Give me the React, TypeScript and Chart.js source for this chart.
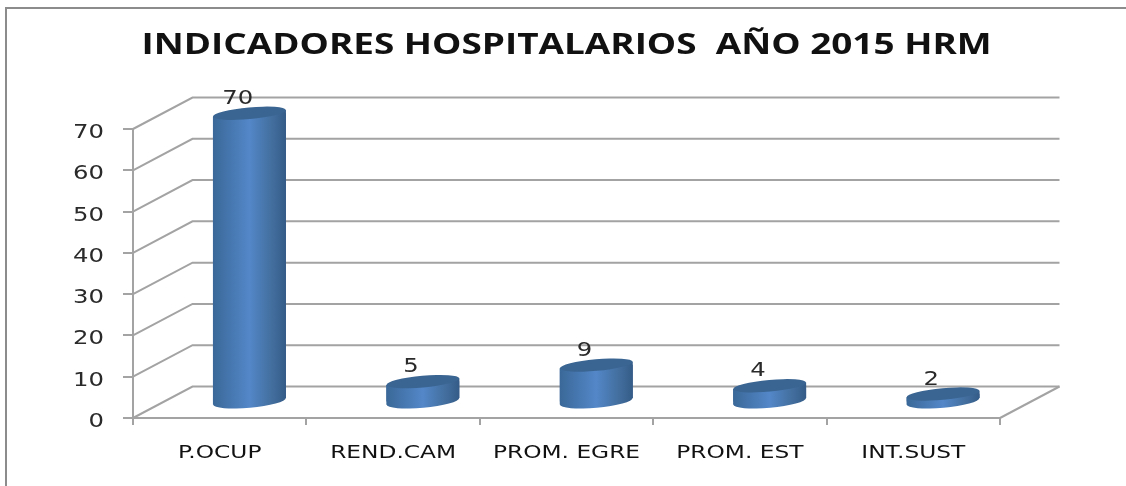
import React, { useEffect, useRef } from "react";
import { Chart, registerables } from "chart.js";

Chart.register(...registerables);

const categories = ["P.OCUP", "REND.CAM", "PROM. EGRE", "PROM. EST", "INT.SUST"];
const values = [70, 5, 9, 4, 2];
const chartTitle = "INDICADORES HOSPITALARIOS  AÑO 2015 HRM";

const DEPTH_X = 59.5;
const DEPTH_Y = 31.5;
const TILT = -0.09;
const GRID = "#a3a3a3";
const FONT = "'DejaVu Sans', sans-serif";
const TITLE_PX = 28;
const NUM_PX = 19;
const CAT_PX = 17;

function sideGradient(c: CanvasRenderingContext2D, left: number, right: number) {
  const g = c.createLinearGradient(left, 0, right, 0);
  g.addColorStop(0, "#3a6898");
  g.addColorStop(0.5, "#5387c8");
  g.addColorStop(0.8, "#436f9f");
  g.addColorStop(1, "#355c88");
  return g;
}

// The reference's text is stretched sideways: keep the library's text drawing, widened.
const wideText = {
  id: "wideText",
  afterInit(chart: any) {
    const c = chart.ctx;
    const plain = c.fillText.bind(c);
    c.fillText = (text: string, x: number, y: number, maxWidth?: number) => {
      const px = parseFloat((/(\d+(?:\.\d+)?)px/.exec(c.font) || ["", "12"])[1]);
      const sx = px === TITLE_PX ? 1.318 : px === NUM_PX ? 1.28 : px === CAT_PX ? 1.37 : 1;
      const dy = px === NUM_PX ? 4 : 0;
      c.save();
      c.translate(x, y + dy);
      c.scale(sx, 1);
      if (maxWidth === undefined) plain(text, 0, 0);
      else plain(text, 0, 0, maxWidth / sx);
      c.restore();
    };
  },
};

const frame = {
  id: "frame",
  beforeDraw(chart: any) {
    const c = chart.ctx;
    c.save();
    c.strokeStyle = "#8c8c8c";
    c.lineWidth = 2;
    c.beginPath();
    c.moveTo(6, 486);
    c.lineTo(6, 8);
    c.lineTo(1126, 8);
    c.stroke();
    c.restore();
  },
};

const walls = {
  id: "walls",
  beforeDatasetsDraw(chart: any) {
    const c = chart.ctx;
    const { left, right } = chart.chartArea;
    const y = chart.scales.y;
    c.save();
    c.strokeStyle = GRID;
    c.lineWidth = 2;
    y.ticks.forEach((t: any) => {
      const py = y.getPixelForValue(t.value);
      c.beginPath();
      c.moveTo(left, py);
      c.lineTo(left + DEPTH_X, py - DEPTH_Y);
      c.lineTo(right + DEPTH_X, py - DEPTH_Y);
      c.stroke();
    });
    const y0 = y.getPixelForValue(0);
    c.beginPath();
    c.moveTo(right + DEPTH_X, y0 - DEPTH_Y);
    c.lineTo(right, y0);
    c.stroke();
    c.restore();
  },
};

function tiltedBody(c: CanvasRenderingContext2D, p: any) {
  const w = p.width / 2;
  const t = w * Math.sin(-TILT);
  c.moveTo(p.x - w, p.y + t);
  c.lineTo(p.x + w, p.y - t);
  c.lineTo(p.x + w, p.base - t);
  c.lineTo(p.x - w, p.base + t);
  c.closePath();
}

const cylinders = {
  id: "cylinders",
  beforeDatasetsDraw(chart: any) {
    const c = chart.ctx;
    const meta = chart.getDatasetMeta(0);
    c.save();
    c.translate(DEPTH_X / 2, -DEPTH_Y / 2);
    meta.data.forEach((b: any) => {
      const p = b.getProps(["x", "y", "base", "width"], true);
      c.fillStyle = sideGradient(c, p.x - p.width / 2, p.x + p.width / 2);
      c.beginPath();
      c.ellipse(p.x, p.base, p.width / 2, 6.5, TILT, 0, Math.PI * 2);
      c.fill();
      c.beginPath();
      tiltedBody(c, p);
      c.fill();
    });
    // The library paints the bars, shifted to mid-depth and clipped to the tilted sides.
    c.save();
    c.beginPath();
    meta.data.forEach((b: any) => {
      tiltedBody(c, b.getProps(["x", "y", "base", "width"], true));
    });
    c.clip();
  },
  afterDatasetsDraw(chart: any) {
    const c = chart.ctx;
    const meta = chart.getDatasetMeta(0);
    c.restore();
    meta.data.forEach((b: any) => {
      const p = b.getProps(["x", "y", "width"], true);
      c.beginPath();
      c.ellipse(p.x, p.y, p.width / 2, 5.8, TILT, 0, Math.PI * 2);
      c.fillStyle = "#3a6592";
      c.fill();
    });
    c.restore();
    c.save();
    c.fillStyle = "#2a2a2a";
    c.font = `${NUM_PX}px ${FONT}`;
    c.textAlign = "center";
    c.textBaseline = "middle";
    meta.data.forEach((b: any, i: number) => {
      const p = b.getProps(["x", "y"], true);
      c.fillText(String(values[i]), p.x + 18, p.y - 34);
    });
    c.restore();
  },
};

export default function App() {
  const ref = useRef<HTMLCanvasElement | null>(null);
  useEffect(() => {
    if (!ref.current) return;
    const chart = new Chart(ref.current, {
      type: "bar",
      data: {
        labels: categories,
        datasets: [
          {
            data: values,
            barThickness: 73,
            backgroundColor: (ctx: any) => {
              const s = ctx.chart.scales.x;
              const c = ctx.chart.ctx;
              const x = s && ctx.dataIndex !== undefined ? s.getPixelForValue(ctx.dataIndex) : NaN;
              if (!Number.isFinite(x)) return "#4f81bd";
              return sideGradient(c, x - 36.5, x + 36.5);
            },
          },
        ],
      },
      plugins: [wideText, frame, walls, cylinders],
      options: {
        responsive: false,
        animation: false,
        layout: { padding: { left: 0, right: 126, top: 0, bottom: 0 } },
        plugins: {
          legend: { display: false },
          tooltip: { enabled: false },
          title: {
            display: true,
            text: chartTitle,
            fullSize: false,
            color: "#111111",
            font: { family: "'Open Sans', sans-serif", size: TITLE_PX, weight: "bold" },
            padding: { top: 29, bottom: 66.4 },
          },
        },
        scales: {
          x: {
            offset: true,
            afterFit: (s: any) => {
              s.height = 68;
            },
            grid: { offset: true, drawOnChartArea: false, color: GRID, lineWidth: 2, tickLength: 7 },
            border: { display: true, color: GRID, width: 2 },
            ticks: { color: "#111111", font: { family: FONT, size: CAT_PX }, padding: 18, maxRotation: 0 },
          },
          y: {
            min: 0,
            max: 70,
            afterFit: (s: any) => {
              s.width = 133;
            },
            grid: { drawOnChartArea: false, color: GRID, lineWidth: 2, tickLength: 10 },
            border: { display: true, color: GRID, width: 2 },
            ticks: { stepSize: 10, color: "#2a2a2a", font: { family: FONT, size: NUM_PX }, padding: 19 },
          },
        },
      },
    } as any);
    return () => chart.destroy();
  }, []);
  return (
    <div style={{ position: "absolute", left: 0, top: 0, width: 1126, height: 486, background: "#fff" }}>
      <canvas ref={ref} width={1126} height={486} style={{ display: "block" }} />
    </div>
  );
}
